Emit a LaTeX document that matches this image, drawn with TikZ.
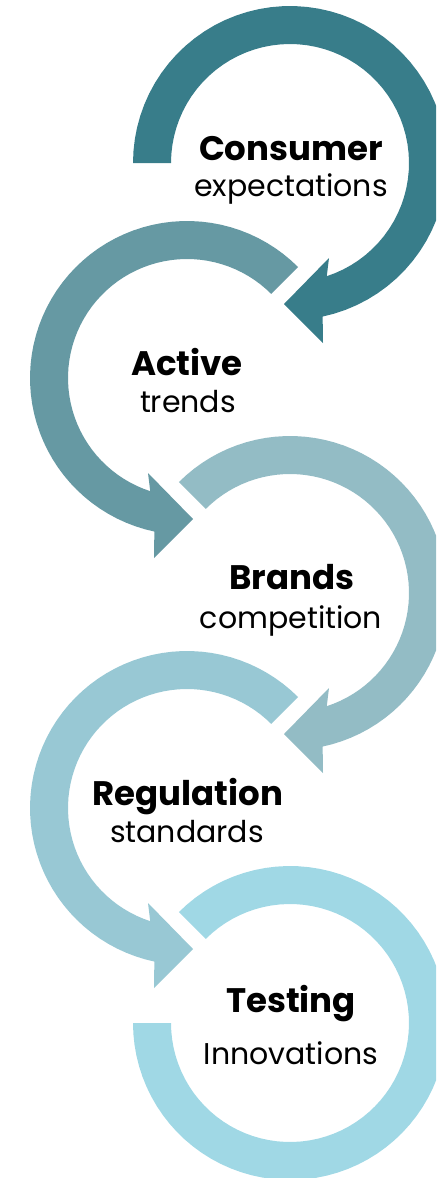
\documentclass[tikz,border=0pt]{standalone}
\usepackage{fontspec}
\setmainfont{Poppins}

\definecolor{consumercol}{RGB}{56,125,138}
\definecolor{activecol}{RGB}{102,153,163}
\definecolor{brandscol}{RGB}{147,188,197}
\definecolor{regcol}{RGB}{152,200,212}
\definecolor{testcol}{RGB}{160,216,229}

\tikzset{
    title/.style={font=\fontsize{17}{20}\selectfont\bfseries, anchor=base, inner sep=0pt},
    sub/.style={font=\fontsize{15}{18}\selectfont, anchor=base, inner sep=0pt}
}

\begin{document}
\begin{tikzpicture}[x=.5pt,y=-.5pt]
        \useasboundingbox (0,0) rectangle (436,1178);
        \clip (0,0) rectangle (436,1178);
        \foreach \cx/\cy/\a/\s/\col in {290/163/180/1/consumercol, 187/378/225/-1/activecol, 290/593/225/1/brandscol, 187/808/225/-1/regcol}
        {
            \begin{scope}[shift={(\cx,\cy)},xscale=\s]
                \fill[\col] plot[domain=\a:438, samples=60] ({157*cos(\x)},{157*sin(\x)}) -- (33,180) -- (-6,141) -- (39,95)
                    -- plot[domain=432:\a, samples=60] ({119*cos(\x)},{119*sin(\x)}) -- cycle;
            \end{scope}
        }
        \begin{scope}[shift={(290,1023)}]
            \fill[testcol] plot[domain=225:540, samples=80] ({157*cos(\x)},{157*sin(\x)})
                -- plot[domain=540:225, samples=80] ({119*cos(\x)},{119*sin(\x)}) -- cycle;
        \end{scope}

        \node[title] (consumer) at (291,160) {Consumer};
        \node[sub] (expect) at (291,196) {expectations};
        \node[title] (active) at (187,375) {Active};
        \node[sub] (trends) at (188,412) {trends};
        \node[title] (brands) at (292,589) {Brands};
        \node[sub] (comp) at (291,628) {competition};
        \node[title] (regulation) at (188,805) {Regulation};
        \node[sub] (standards) at (187,842) {standards};
        \node[title] (testing) at (291,1012) {Testing};
        \node[sub] (innov) at (291,1064) {Innovations};
    \end{tikzpicture}
\end{document}
